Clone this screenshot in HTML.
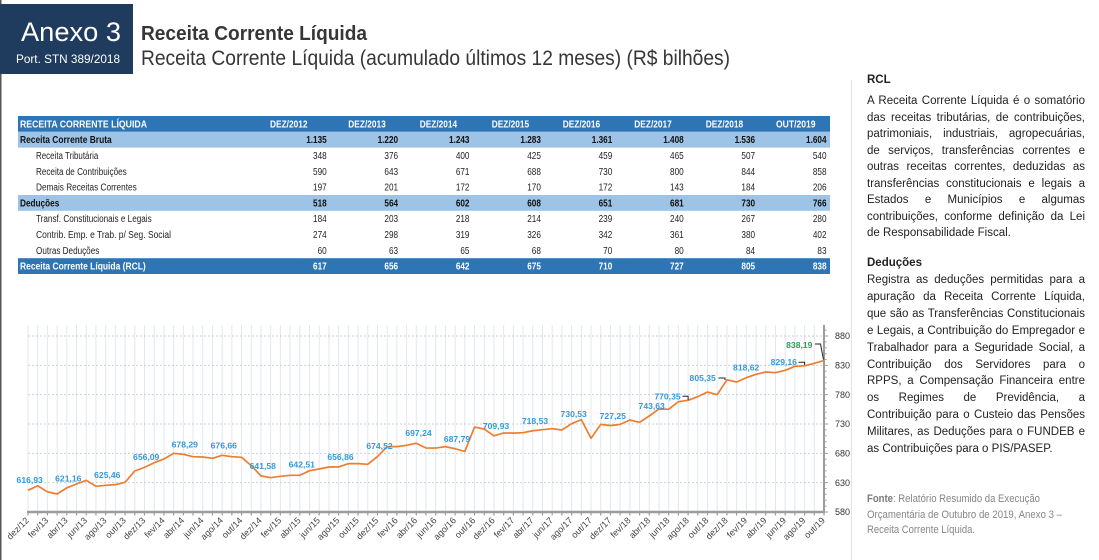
<!DOCTYPE html>
<html><head><meta charset="utf-8"><style>
html,body{margin:0;padding:0;background:#fff;}
#wrap{position:relative;width:1099px;height:560px;overflow:hidden;font-family:"Liberation Sans",Arial,sans-serif;}
svg{position:absolute;left:0;top:0;}
.p{position:absolute;left:867px;width:218px;font-size:11.5px;line-height:14px;height:14px;color:#222;white-space:nowrap;}
.j{text-align:justify;text-align-last:justify;white-space:normal;}
.b{font-weight:bold;}
</style></head><body><div id="wrap">
<svg width="1099" height="560" viewBox="0 0 1099 560" font-family="'Liberation Sans', Arial, sans-serif">
<rect x="0" y="0" width="1099" height="560" fill="#fff"/>
<line x1="0.75" y1="0" x2="0.75" y2="560" stroke="#555" stroke-width="1.5"/>
<line x1="851.5" y1="80" x2="851.5" y2="560" stroke="#e3e3e3" stroke-width="1"/>
<!-- header -->
<rect x="0" y="4" width="133" height="70" fill="#1f3b5d"/>
<text x="71" y="41" font-size="27" fill="#fff" text-anchor="middle" textLength="100" lengthAdjust="spacingAndGlyphs">Anexo 3</text>
<text x="68" y="63" font-size="12" fill="#fff" text-anchor="middle" textLength="104" lengthAdjust="spacingAndGlyphs">Port. STN 389/2018</text>
<text x="141" y="40" font-size="20" font-weight="bold" fill="#363636" textLength="226" lengthAdjust="spacingAndGlyphs">Receita Corrente Líquida</text>
<text x="141" y="65" font-size="21" fill="#363636" textLength="589" lengthAdjust="spacingAndGlyphs">Receita Corrente Líquida (acumulado últimos 12 meses) (R$ bilhões)</text>

<!-- table -->
<rect x="18" y="116" width="812" height="15.8" fill="#2e75b6"/>
<rect x="18" y="131.8" width="812" height="15.8" fill="#9dc3e6"/>
<rect x="18" y="195" width="812" height="15.8" fill="#9dc3e6"/>
<rect x="18" y="258.2" width="812" height="15.8" fill="#2e75b6"/>
<g font-size="10">
<text x="20" y="127.4" fill="#fff" font-weight="bold" textLength="127" lengthAdjust="spacingAndGlyphs">RECEITA CORRENTE LÍQUIDA</text>
<g fill="#fff" font-weight="bold">
<text x="270" y="127.4" textLength="37.5" lengthAdjust="spacingAndGlyphs">DEZ/2012</text>
<text x="348.3" y="127.4" textLength="37.5" lengthAdjust="spacingAndGlyphs">DEZ/2013</text>
<text x="419.7" y="127.4" textLength="37.5" lengthAdjust="spacingAndGlyphs">DEZ/2014</text>
<text x="491.7" y="127.4" textLength="37.5" lengthAdjust="spacingAndGlyphs">DEZ/2015</text>
<text x="562.7" y="127.4" textLength="37.5" lengthAdjust="spacingAndGlyphs">DEZ/2016</text>
<text x="634.3" y="127.4" textLength="37.5" lengthAdjust="spacingAndGlyphs">DEZ/2017</text>
<text x="705.7" y="127.4" textLength="37.5" lengthAdjust="spacingAndGlyphs">DEZ/2018</text>
<text x="776" y="127.4" textLength="39.5" lengthAdjust="spacingAndGlyphs">OUT/2019</text>
</g>
<text x="20" y="143.2" font-weight="bold" fill="#111" textLength="91.7" lengthAdjust="spacingAndGlyphs">Receita Corrente Bruta</text>
<text x="36" y="159" fill="#222" textLength="62.3" lengthAdjust="spacingAndGlyphs">Receita Tributária</text>
<text x="36" y="174.8" fill="#222" textLength="90.7" lengthAdjust="spacingAndGlyphs">Receita de Contribuições</text>
<text x="36" y="190.6" fill="#222" textLength="100.7" lengthAdjust="spacingAndGlyphs">Demais Receitas Correntes</text>
<text x="20" y="206.4" font-weight="bold" fill="#111" textLength="39.3" lengthAdjust="spacingAndGlyphs">Deduções</text>
<text x="36" y="222.2" fill="#222" textLength="115.7" lengthAdjust="spacingAndGlyphs">Transf. Constitucionais e Legais</text>
<text x="36" y="238" fill="#222" textLength="135" lengthAdjust="spacingAndGlyphs">Contrib. Emp. e Trab. p/ Seg. Social</text>
<text x="36" y="253.8" fill="#222" textLength="63.3" lengthAdjust="spacingAndGlyphs">Outras Deduções</text>
<text x="20" y="269.6" font-weight="bold" fill="#fff" textLength="125.7" lengthAdjust="spacingAndGlyphs">Receita Corrente Líquida (RCL)</text>
</g>
<g transform="scale(0.82,1)" font-size="10" text-anchor="end">
<g font-weight="bold" fill="#111">
<text x="398.41" y="143.2">1.135</text><text x="485.49" y="143.2">1.220</text><text x="572.56" y="143.2">1.243</text><text x="659.63" y="143.2">1.283</text><text x="746.71" y="143.2">1.361</text><text x="833.78" y="143.2">1.408</text><text x="920.85" y="143.2">1.536</text><text x="1007.93" y="143.2">1.604</text>
<text x="398.41" y="206.4">518</text><text x="485.49" y="206.4">564</text><text x="572.56" y="206.4">602</text><text x="659.63" y="206.4">608</text><text x="746.71" y="206.4">651</text><text x="833.78" y="206.4">681</text><text x="920.85" y="206.4">730</text><text x="1007.93" y="206.4">766</text>
</g>
<g fill="#222">
<text x="398.41" y="159">348</text><text x="485.49" y="159">376</text><text x="572.56" y="159">400</text><text x="659.63" y="159">425</text><text x="746.71" y="159">459</text><text x="833.78" y="159">465</text><text x="920.85" y="159">507</text><text x="1007.93" y="159">540</text>
<text x="398.41" y="174.8">590</text><text x="485.49" y="174.8">643</text><text x="572.56" y="174.8">671</text><text x="659.63" y="174.8">688</text><text x="746.71" y="174.8">730</text><text x="833.78" y="174.8">800</text><text x="920.85" y="174.8">844</text><text x="1007.93" y="174.8">858</text>
<text x="398.41" y="190.6">197</text><text x="485.49" y="190.6">201</text><text x="572.56" y="190.6">172</text><text x="659.63" y="190.6">170</text><text x="746.71" y="190.6">172</text><text x="833.78" y="190.6">143</text><text x="920.85" y="190.6">184</text><text x="1007.93" y="190.6">206</text>
<text x="398.41" y="222.2">184</text><text x="485.49" y="222.2">203</text><text x="572.56" y="222.2">218</text><text x="659.63" y="222.2">214</text><text x="746.71" y="222.2">239</text><text x="833.78" y="222.2">240</text><text x="920.85" y="222.2">267</text><text x="1007.93" y="222.2">280</text>
<text x="398.41" y="238">274</text><text x="485.49" y="238">298</text><text x="572.56" y="238">319</text><text x="659.63" y="238">326</text><text x="746.71" y="238">342</text><text x="833.78" y="238">361</text><text x="920.85" y="238">380</text><text x="1007.93" y="238">402</text>
<text x="398.41" y="253.8">60</text><text x="485.49" y="253.8">63</text><text x="572.56" y="253.8">65</text><text x="659.63" y="253.8">68</text><text x="746.71" y="253.8">70</text><text x="833.78" y="253.8">80</text><text x="920.85" y="253.8">84</text><text x="1007.93" y="253.8">83</text>
</g>
<g font-weight="bold" fill="#fff">
<text x="398.41" y="269.6">617</text><text x="485.49" y="269.6">656</text><text x="572.56" y="269.6">642</text><text x="659.63" y="269.6">675</text><text x="746.71" y="269.6">710</text><text x="833.78" y="269.6">727</text><text x="920.85" y="269.6">805</text><text x="1007.93" y="269.6">838</text>
</g>
</g>

<!-- chart gridlines -->
<path stroke="#e1e8ef" stroke-width="1" fill="none" d="M28.00 325V512M37.71 325V512M47.41 325V512M57.12 325V512M66.83 325V512M76.54 325V512M86.24 325V512M95.95 325V512M105.66 325V512M115.37 325V512M125.07 325V512M134.78 325V512M144.49 325V512M154.20 325V512M163.90 325V512M173.61 325V512M183.32 325V512M193.02 325V512M202.73 325V512M212.44 325V512M222.15 325V512M231.85 325V512M241.56 325V512M251.27 325V512M260.98 325V512M270.68 325V512M280.39 325V512M290.10 325V512M299.80 325V512M309.51 325V512M319.22 325V512M328.93 325V512M338.63 325V512M348.34 325V512M358.05 325V512M367.76 325V512M377.46 325V512M387.17 325V512M396.88 325V512M406.59 325V512M416.29 325V512M426.00 325V512M435.71 325V512M445.41 325V512M455.12 325V512M464.83 325V512M474.54 325V512M484.24 325V512M493.95 325V512M503.66 325V512M513.37 325V512M523.07 325V512M532.78 325V512M542.49 325V512M552.20 325V512M561.90 325V512M571.61 325V512M581.32 325V512M591.02 325V512M600.73 325V512M610.44 325V512M620.15 325V512M629.85 325V512M639.56 325V512M649.27 325V512M658.98 325V512M668.68 325V512M678.39 325V512M688.10 325V512M697.80 325V512M707.51 325V512M717.22 325V512M726.93 325V512M736.63 325V512M746.34 325V512M756.05 325V512M765.76 325V512M775.46 325V512M785.17 325V512M794.88 325V512M804.59 325V512M814.29 325V512"/>
<path stroke="#c9d0d6" stroke-width="1" stroke-dasharray="2,2" fill="none" d="M28 336H824M28 365.33H824M28 394.67H824M28 424H824M28 453.33H824M28 482.67H824"/>
<!-- axes -->
<line x1="27" y1="512" x2="825" y2="512" stroke="#9c9c9c" stroke-width="2.5"/>
<path stroke="#9c9c9c" stroke-width="1.2" fill="none" d="M28.00 512V515.5M37.71 512V515.5M47.41 512V515.5M57.12 512V515.5M66.83 512V515.5M76.54 512V515.5M86.24 512V515.5M95.95 512V515.5M105.66 512V515.5M115.37 512V515.5M125.07 512V515.5M134.78 512V515.5M144.49 512V515.5M154.20 512V515.5M163.90 512V515.5M173.61 512V515.5M183.32 512V515.5M193.02 512V515.5M202.73 512V515.5M212.44 512V515.5M222.15 512V515.5M231.85 512V515.5M241.56 512V515.5M251.27 512V515.5M260.98 512V515.5M270.68 512V515.5M280.39 512V515.5M290.10 512V515.5M299.80 512V515.5M309.51 512V515.5M319.22 512V515.5M328.93 512V515.5M338.63 512V515.5M348.34 512V515.5M358.05 512V515.5M367.76 512V515.5M377.46 512V515.5M387.17 512V515.5M396.88 512V515.5M406.59 512V515.5M416.29 512V515.5M426.00 512V515.5M435.71 512V515.5M445.41 512V515.5M455.12 512V515.5M464.83 512V515.5M474.54 512V515.5M484.24 512V515.5M493.95 512V515.5M503.66 512V515.5M513.37 512V515.5M523.07 512V515.5M532.78 512V515.5M542.49 512V515.5M552.20 512V515.5M561.90 512V515.5M571.61 512V515.5M581.32 512V515.5M591.02 512V515.5M600.73 512V515.5M610.44 512V515.5M620.15 512V515.5M629.85 512V515.5M639.56 512V515.5M649.27 512V515.5M658.98 512V515.5M668.68 512V515.5M678.39 512V515.5M688.10 512V515.5M697.80 512V515.5M707.51 512V515.5M717.22 512V515.5M726.93 512V515.5M736.63 512V515.5M746.34 512V515.5M756.05 512V515.5M765.76 512V515.5M775.46 512V515.5M785.17 512V515.5M794.88 512V515.5M804.59 512V515.5M814.29 512V515.5M824.00 512V515.5"/>
<line x1="824" y1="325" x2="824" y2="513" stroke="#9c9c9c" stroke-width="2"/>
<path stroke="#9c9c9c" stroke-width="1" fill="none" d="M824 336H828M824 341.87H826.5M824 347.73H826.5M824 353.6H826.5M824 359.47H826.5M824 365.33H828M824 371.2H826.5M824 377.07H826.5M824 382.93H826.5M824 388.8H826.5M824 394.67H828M824 400.53H826.5M824 406.4H826.5M824 412.27H826.5M824 418.13H826.5M824 424H828M824 429.87H826.5M824 435.73H826.5M824 441.6H826.5M824 447.47H826.5M824 453.33H828M824 459.2H826.5M824 465.07H826.5M824 470.93H826.5M824 476.8H826.5M824 482.67H828M824 488.53H826.5M824 494.4H826.5M824 500.27H826.5M824 506.13H826.5M824 512H828M824 330.13H826.5"/>
<g font-size="9" fill="#333">
<text x="835" y="339.2">880</text><text x="835" y="368.5">830</text><text x="835" y="397.9">780</text><text x="835" y="427.2">730</text><text x="835" y="456.5">680</text><text x="835" y="485.9">630</text><text x="835" y="515.2">580</text>
</g>
<!-- series -->
<polyline fill="none" stroke="#ed7d31" stroke-width="1.7" stroke-linejoin="round" points="28.00,490.33 37.71,485.72 47.41,491.82 57.12,493.99 66.83,487.85 76.54,484.02 86.24,480.32 95.95,486.30 105.66,485.33 115.37,484.66 125.07,482.31 134.78,470.99 144.49,467.36 154.20,462.72 163.90,459.02 173.61,453.33 183.32,454.34 193.02,456.68 202.73,457.03 212.44,458.32 222.15,455.29 231.85,456.68 241.56,457.32 251.27,465.65 260.98,475.87 270.68,477.68 280.39,476.33 290.10,475.33 299.80,475.33 309.51,470.70 319.22,469.00 328.93,467.00 338.63,466.91 348.34,463.66 358.05,463.66 367.76,464.30 377.46,456.55 387.17,446.65 396.88,446.65 406.59,445.30 416.29,443.22 426.00,448.05 435.71,448.05 445.41,446.65 455.12,448.76 464.83,451.40 474.54,427.05 484.24,429.10 493.95,435.77 503.66,432.98 513.37,433.09 523.07,432.68 532.78,430.73 542.49,429.69 552.20,428.69 561.90,429.98 571.61,423.69 581.32,419.60 591.02,438.31 600.73,424.35 610.44,425.61 620.15,424.35 629.85,420.01 639.56,422.30 649.27,416.00 658.98,408.98 668.68,409.33 678.39,401.71 688.10,400.33 697.80,396.66 707.51,392.03 717.22,394.67 726.93,379.79 736.63,382.00 746.34,377.65 756.05,374.31 765.76,372.01 775.46,372.67 785.17,370.32 794.88,366.33 804.59,365.83 814.29,363.28 824.00,360.53"/>
<!-- leader lines -->
<path stroke="#222" stroke-width="1" fill="none" d="M682.5 396.3H688.1V400M718.5 378H725V380M798.5 362.2H804.6V365M815 344H820.5L823.5 359.5"/>
<!-- data labels -->
<g font-size="8.6" font-weight="bold" fill="#3399dd" text-anchor="middle">
<text x="29.7" y="483.2">616,93</text>
<text x="68.3" y="481.5">621,16</text>
<text x="107.3" y="478.2">625,46</text>
<text x="146.2" y="459.9">656,09</text>
<text x="184.8" y="447.5">678,29</text>
<text x="223.8" y="448.5">676,66</text>
<text x="262.8" y="469.2">641,58</text>
<text x="301.8" y="467.7">642,51</text>
<text x="340.5" y="460.2">656,86</text>
<text x="379.5" y="449.2">674,52</text>
<text x="418.5" y="436.2">697,24</text>
<text x="457" y="442.2">687,79</text>
<text x="496" y="429.2">709,93</text>
<text x="535" y="424.2">718,53</text>
<text x="573.7" y="417.2">730,53</text>
<text x="612.8" y="419.2">727,25</text>
<text x="651.7" y="409.2">743,63</text>
<text x="667.5" y="399.5">770,35</text>
<text x="702.7" y="381.2">805,35</text>
<text x="746.2" y="370.5">818,62</text>
<text x="783.8" y="365.2">829,16</text>
<text x="799.3" y="347.9" fill="#2ea05a">838,19</text>
</g>
<!-- x labels -->
<g font-size="9" fill="#444" text-anchor="end">
<text transform="translate(29.5,521) rotate(-45)">dez/12</text>
<text transform="translate(48.91,521) rotate(-45)">fev/13</text>
<text transform="translate(68.33,521) rotate(-45)">abr/13</text>
<text transform="translate(87.74,521) rotate(-45)">jun/13</text>
<text transform="translate(107.16,521) rotate(-45)">ago/13</text>
<text transform="translate(126.57,521) rotate(-45)">out/13</text>
<text transform="translate(145.99,521) rotate(-45)">dez/13</text>
<text transform="translate(165.40,521) rotate(-45)">fev/14</text>
<text transform="translate(184.82,521) rotate(-45)">abr/14</text>
<text transform="translate(204.23,521) rotate(-45)">jun/14</text>
<text transform="translate(223.65,521) rotate(-45)">ago/14</text>
<text transform="translate(243.06,521) rotate(-45)">out/14</text>
<text transform="translate(262.48,521) rotate(-45)">dez/14</text>
<text transform="translate(281.89,521) rotate(-45)">fev/15</text>
<text transform="translate(301.30,521) rotate(-45)">abr/15</text>
<text transform="translate(320.72,521) rotate(-45)">jun/15</text>
<text transform="translate(340.13,521) rotate(-45)">ago/15</text>
<text transform="translate(359.55,521) rotate(-45)">out/15</text>
<text transform="translate(378.96,521) rotate(-45)">dez/15</text>
<text transform="translate(398.38,521) rotate(-45)">fev/16</text>
<text transform="translate(417.79,521) rotate(-45)">abr/16</text>
<text transform="translate(437.21,521) rotate(-45)">jun/16</text>
<text transform="translate(456.62,521) rotate(-45)">ago/16</text>
<text transform="translate(476.04,521) rotate(-45)">out/16</text>
<text transform="translate(495.45,521) rotate(-45)">dez/16</text>
<text transform="translate(514.87,521) rotate(-45)">fev/17</text>
<text transform="translate(534.28,521) rotate(-45)">abr/17</text>
<text transform="translate(553.70,521) rotate(-45)">jun/17</text>
<text transform="translate(573.11,521) rotate(-45)">ago/17</text>
<text transform="translate(592.52,521) rotate(-45)">out/17</text>
<text transform="translate(611.94,521) rotate(-45)">dez/17</text>
<text transform="translate(631.35,521) rotate(-45)">fev/18</text>
<text transform="translate(650.77,521) rotate(-45)">abr/18</text>
<text transform="translate(670.18,521) rotate(-45)">jun/18</text>
<text transform="translate(689.60,521) rotate(-45)">ago/18</text>
<text transform="translate(709.01,521) rotate(-45)">out/18</text>
<text transform="translate(728.43,521) rotate(-45)">dez/18</text>
<text transform="translate(747.84,521) rotate(-45)">fev/19</text>
<text transform="translate(767.26,521) rotate(-45)">abr/19</text>
<text transform="translate(786.67,521) rotate(-45)">jun/19</text>
<text transform="translate(806.09,521) rotate(-45)">ago/19</text>
<text transform="translate(825.50,521) rotate(-45)">out/19</text>
</g>
<!-- fonte -->
<g font-size="11" fill="#858585">
<text x="867" y="502" textLength="173" lengthAdjust="spacingAndGlyphs"><tspan font-weight="bold" fill="#7a7a7a">Fonte</tspan>: Relatório Resumido da Execução</text>
<text x="867" y="518" textLength="195" lengthAdjust="spacingAndGlyphs">Orçamentária de Outubro de 2019, Anexo 3 –</text>
<text x="867" y="533" textLength="108" lengthAdjust="spacingAndGlyphs">Receita Corrente Líquida.</text>
</g>
</svg>

<div class="p b" style="top:73px">RCL</div>
<div class="p j" style="top:94px">A Receita Corrente Líquida é o somatório</div>
<div class="p j" style="top:110.5px">das receitas tributárias, de contribuições,</div>
<div class="p j" style="top:127px">patrimoniais, industriais, agropecuárias,</div>
<div class="p j" style="top:143.5px">de serviços, transferências correntes e</div>
<div class="p j" style="top:160px">outras receitas correntes, deduzidas as</div>
<div class="p j" style="top:176.5px">transferências constitucionais e legais a</div>
<div class="p j" style="top:193px">Estados e Municípios e algumas</div>
<div class="p j" style="top:209.5px">contribuições, conforme definição da Lei</div>
<div class="p" style="top:226px">de Responsabilidade Fiscal.</div>

<div class="p b" style="top:256px">Deduções</div>
<div class="p j" style="top:273px">Registra as deduções permitidas para a</div>
<div class="p j" style="top:289.9px">apuração da Receita Corrente Líquida,</div>
<div class="p j" style="top:306.8px">que são as Transferências Constitucionais</div>
<div class="p j" style="top:323.7px">e Legais, a Contribuição do Empregador e</div>
<div class="p j" style="top:340.6px">Trabalhador para a Seguridade Social, a</div>
<div class="p j" style="top:357.5px">Contribuição dos Servidores para o</div>
<div class="p j" style="top:374.4px">RPPS, a Compensação Financeira entre</div>
<div class="p j" style="top:391.3px">os Regimes de Previdência, a</div>
<div class="p j" style="top:408.2px">Contribuição para o Custeio das Pensões</div>
<div class="p j" style="top:425.1px">Militares, as Deduções para o FUNDEB e</div>
<div class="p" style="top:442px">as Contribuições para o PIS/PASEP.</div>
</div></body></html>
